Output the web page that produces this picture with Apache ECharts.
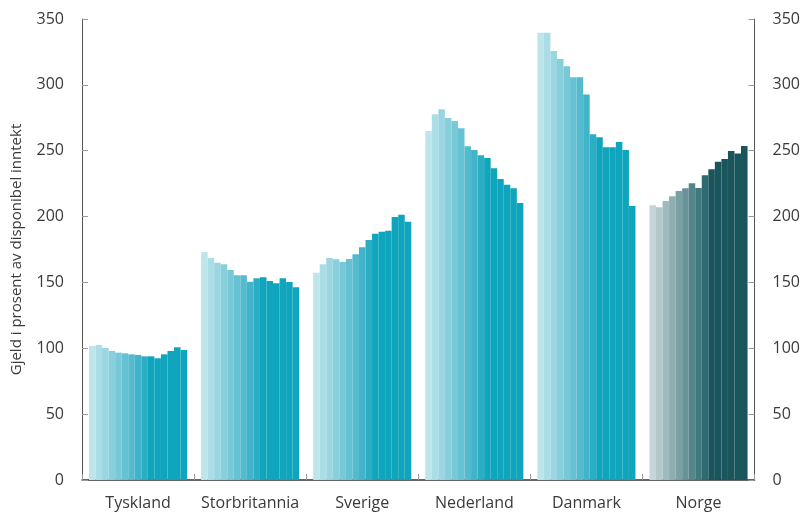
<!DOCTYPE html>
<html>
<head>
<meta charset="utf-8">
<script src="https://cdn.jsdelivr.net/npm/echarts@6/dist/echarts.min.js"></script>
<style>
  html, body { margin: 0; padding: 0; background: #ffffff; }
  #chart { width: 803px; height: 515px; }
</style>
</head>
<body>
<div id="chart"></div>
<script>
// Household debt as a share of disposable income, 15 annual observations per country
const categories = ['Tyskland', 'Storbritannia', 'Sverige', 'Nederland', 'Danmark', 'Norge'];

const tyskland      = [101.7, 102.5, 100.2, 97.9, 96.7, 96.2, 95.4, 94.9, 93.9, 93.9, 92.4, 95.4, 97.9, 100.8, 98.7];
const storbritannia = [173.1, 168.6, 165.0, 163.8, 159.5, 155.4, 155.4, 150.6, 153.1, 153.9, 151.1, 149.3, 153.1, 150.3, 146.3];
const sverige       = [157.4, 163.8, 168.6, 167.6, 165.5, 167.8, 171.4, 176.7, 182.2, 187.0, 188.5, 189.3, 199.7, 201.4, 196.1];
const nederland     = [265.0, 277.7, 281.5, 274.9, 272.6, 267.0, 253.4, 250.6, 246.5, 244.5, 236.7, 228.5, 224.2, 221.5, 210.3];
const danmark       = [339.6, 339.6, 325.7, 319.7, 314.1, 305.8, 305.8, 292.6, 262.5, 260.2, 252.6, 252.6, 256.6, 250.6, 208.0];
const norge         = [208.6, 207.0, 211.8, 215.4, 219.4, 221.5, 225.3, 221.7, 231.4, 235.9, 241.7, 243.7, 249.8, 247.8, 253.6];

const yTicks = [0, 50, 100, 150, 200, 250, 300, 350];

// Shade ramps: light for the earliest observation, full colour for the latest ones
const tealRamp = ['#bfe5ec', '#abdde6', '#99d6e1', '#88cfdc', '#77c9d8', '#66c2d3', '#54bbcf', '#42b4ca', '#2badc4',
                  '#0ea5bd', '#0ea5bd', '#0ea5bd', '#0ea5bd', '#0ea5bd', '#0ea5bd'];
const darkRamp = ['#c5d6d8', '#b2c8cb', '#a0bbbe', '#8dadb1', '#7aa0a4', '#679297', '#54858a', '#41787d', '#2e6a70',
                  '#1b555c', '#1b555c', '#1b555c', '#1b555c', '#1b555c', '#1b555c'];

const countryValues = [tyskland, storbritannia, sverige, nederland, danmark, norge];
const nObs = tyskland.length;

const series = [];
for (let i = 0; i < nObs; i++) {
  series.push({
    type: 'bar',
    name: 'obs' + i,
    barGap: '0%',
    barCategoryGap: '12.5%',
    silent: true,
    itemStyle: { color: tealRamp[i] },
    data: countryValues.map((vals, c) => {
      const item = { value: vals[i] };
      if (categories[c] === 'Norge') item.itemStyle = { color: darkRamp[i] };
      return item;
    })
  });
}

const axisFont = { fontFamily: 'Open Sans', fontSize: 16, color: '#3a3a3a' };

const yAxisBase = {
  type: 'value',
  min: yTicks[0],
  max: yTicks[yTicks.length - 1],
  interval: 50,
  splitLine: { show: false },
  axisLine: { show: true, lineStyle: { color: '#555555', width: 1 } },
  axisTick: { show: true, inside: true, length: 6, lineStyle: { color: '#999999' } },
  axisLabel: Object.assign({ margin: 18 }, axisFont)
};

const chart = echarts.init(document.getElementById('chart'), null, { renderer: 'canvas' });
chart.setOption({
  animation: false,
  backgroundColor: '#ffffff',
  grid: { left: 82, right: 48, top: 19, bottom: 35, containLabel: false },
  xAxis: {
    type: 'category',
    data: categories,
    axisLine: { show: true, lineStyle: { color: '#333333', width: 1.5 } },
    axisTick: { show: true, inside: true, length: 6, lineStyle: { color: '#999999' } },
    axisLabel: Object.assign({ margin: 15, interval: 0, hideOverlap: false }, axisFont)
  },
  yAxis: [
    Object.assign({}, yAxisBase, {
      position: 'left',
      name: 'Gjeld i prosent av disponibel inntekt',
      nameLocation: 'middle',
      nameGap: 58,
      nameTextStyle: { fontFamily: 'Open Sans', fontSize: 15, color: '#3a3a3a' }
    }),
    Object.assign({}, yAxisBase, { position: 'right' })
  ],
  series: series
});
</script>
</body>
</html>
